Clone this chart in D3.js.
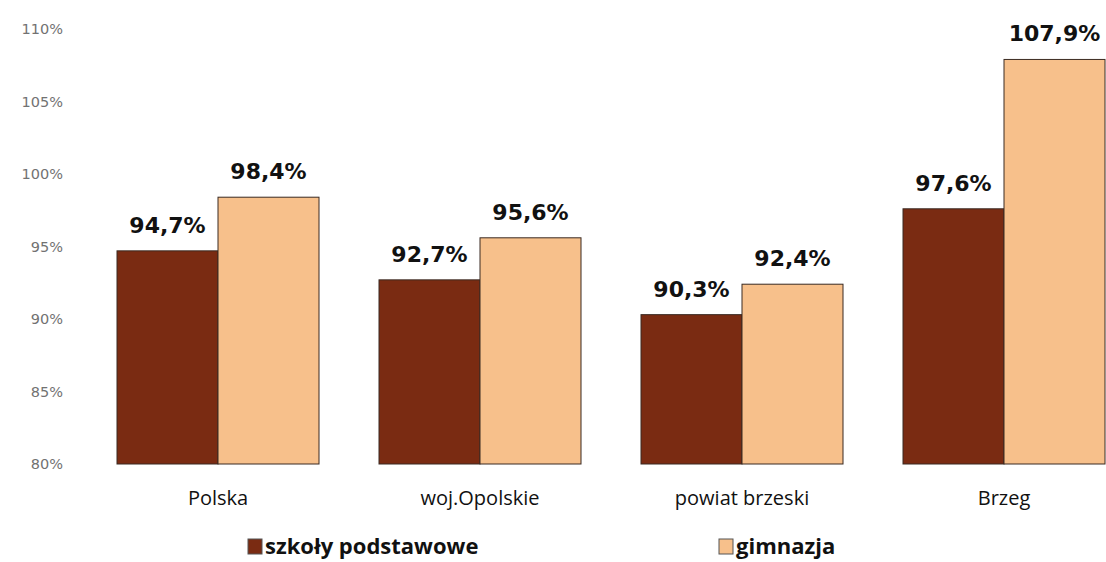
<!DOCTYPE html>
<html><head><meta charset="utf-8">
<script src="https://cdn.jsdelivr.net/npm/d3@7"></script>
<style>body{margin:0;background:#fff}svg{display:block}</style>
</head><body>
<script>
const categories = ["Polska", "woj.Opolskie", "powiat brzeski", "Brzeg"];
const series = ["szkoły podstawowe", "gimnazja"];
const podstawowe = [94.7, 92.7, 90.3, 97.6];
const gimnazja = [98.4, 95.6, 92.4, 107.9];
const yTicks = [80, 85, 90, 95, 100, 105, 110];
const colors = ["#7a2b12", "#f7c08b"];

const W = 1106, H = 562;
const svg = d3.select("body").append("svg").attr("width", W).attr("height", H);

const x = d3.scaleBand().domain(categories).range([87, 1135]).paddingInner(60/262).paddingOuter(30/262);
const x1 = d3.scaleBand().domain(series).range([0, x.bandwidth()]);
const y = d3.scaleLinear().domain([80, 110]).range([464, 29]);

const yAxis = d3.axisLeft(y).tickValues(yTicks).tickFormat(d => d + "%").tickSize(0).tickPadding(0);
const gy = svg.append("g").attr("transform", "translate(63,0)").call(yAxis);
gy.select(".domain").remove();
gy.selectAll("text").attr("font-family", "DejaVu Sans").attr("font-size", 14.5).attr("fill", "#727272");

const data = categories.map((c, i) => ({c, vals: [podstawowe[i], gimnazja[i]]}));
const groups = svg.append("g").selectAll("g").data(data).join("g")
  .attr("transform", d => `translate(${x(d.c)},0)`);

groups.selectAll("rect").data(d => d.vals.map((v, j) => ({v, s: series[j], j}))).join("rect")
  .attr("x", d => x1(d.s)).attr("width", x1.bandwidth())
  .attr("y", d => y(d.v)).attr("height", d => y(80) - y(d.v))
  .attr("fill", d => colors[d.j]).attr("stroke", "#3a2a22").attr("stroke-width", 1);

groups.selectAll("text.val").data(d => d.vals.map((v, j) => ({v, s: series[j], j}))).join("text")
  .attr("class", "val")
  .attr("x", d => x1(d.s) + x1.bandwidth() / 2)
  .attr("y", d => y(d.v) - 18)
  .attr("text-anchor", "middle")
  .attr("font-family", "DejaVu Sans").attr("font-weight", "bold").attr("font-size", 22)
  .attr("fill", "#111")
  .text(d => d.v.toFixed(1).replace(".", ",") + "%");

const xAxis = d3.axisBottom(x).tickSize(0).tickPadding(0);
const gx = svg.append("g").attr("transform", "translate(0,505)").call(xAxis);
gx.select(".domain").remove();
gx.selectAll("text").attr("font-family", "Open Sans").attr("font-size", 20).attr("fill", "#111").attr("dy", 0);

const legX = [248, 719];
const leg = svg.append("g").selectAll("g").data(series).join("g")
  .attr("transform", (d, i) => `translate(${legX[i]},539)`);
leg.append("rect").attr("width", 14).attr("height", 15).attr("fill", (d, i) => colors[i]).attr("stroke", "#555").attr("stroke-width", 1);
leg.append("text").attr("x", 17).attr("y", 15).attr("font-family", "Open Sans").attr("font-weight", "bold")
  .attr("font-size", 22).attr("fill", "#111").text(d => d);
</script>
</body></html>
